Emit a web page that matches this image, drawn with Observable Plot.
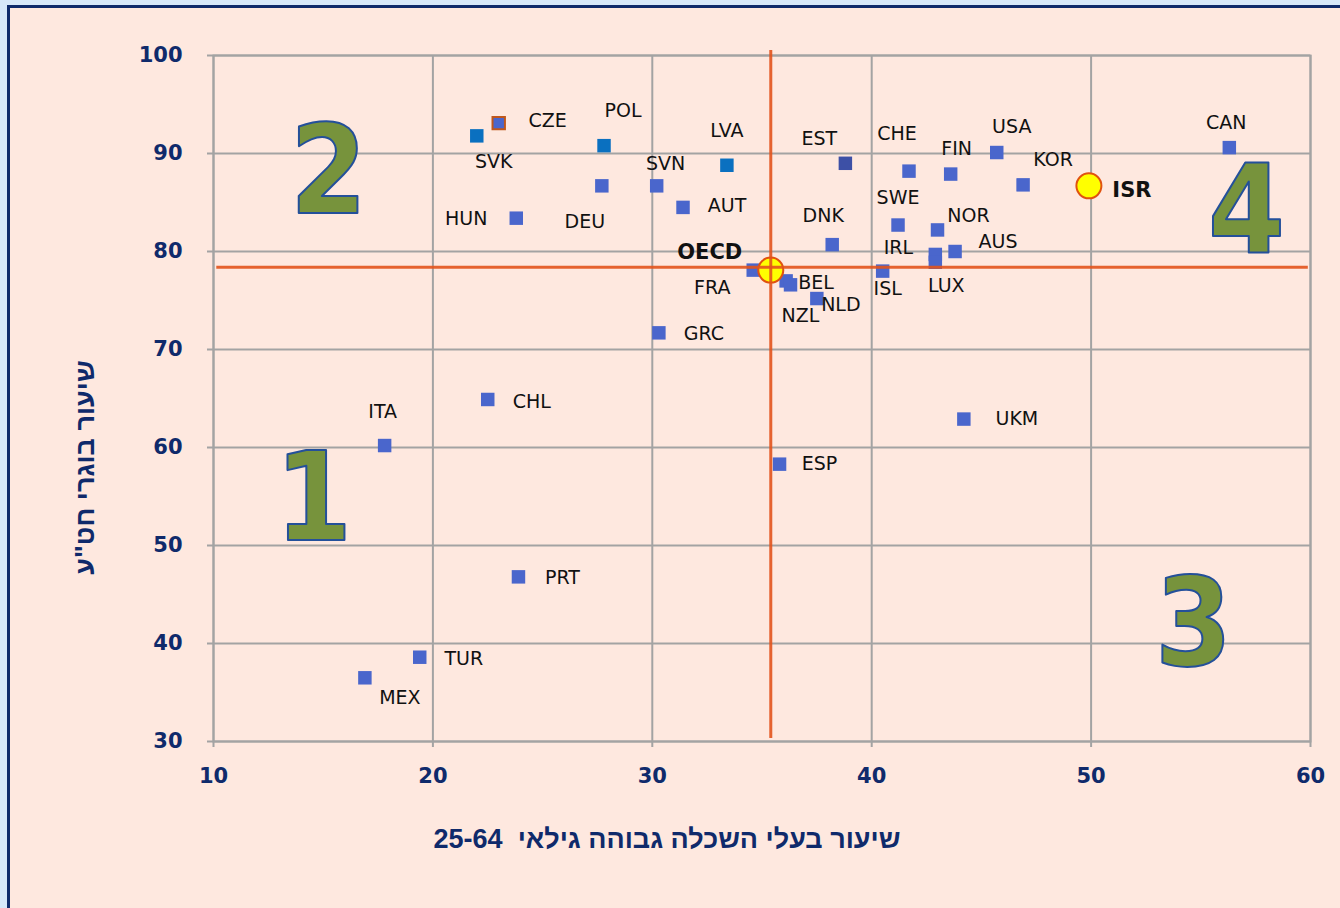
<!DOCTYPE html>
<html><head><meta charset="utf-8">
<script src="https://cdn.jsdelivr.net/npm/d3@7"></script>
<script src="https://cdn.jsdelivr.net/npm/@observablehq/plot@0.6"></script>
<style>
html,body{margin:0;padding:0;}
body{width:1340px;height:908px;background:#d7e8fa;position:relative;overflow:hidden;}
#frame{position:absolute;left:7px;top:5px;width:1333px;height:903px;background:#fee8df;border-left:3px solid #0f2a6b;border-top:3px solid #0f2a6b;box-sizing:border-box;}
#chart{position:absolute;left:0;top:0;}
g[aria-label="quadrant"] text{filter:drop-shadow(4px 4px 3px rgba(0,0,0,0.35));}
</style></head>
<body><div id="frame"></div><div id="chart"></div>
<script>
// ---- data ----
const countries = ["SVK","CZE","POL","LVA","DEU","SVN","AUT","HUN","EST","CHE","FIN","USA","KOR","CAN","SWE","NOR","DNK","IRL","AUS","LUX","ISL","FRA","BEL","NZL","NLD","GRC","CHL","ITA","ESP","UKM","PRT","TUR","MEX","OECD","ISR"];
const tertiaryRate = [22.0,23.0,27.8,33.4,27.7,30.2,31.4,23.8,38.8,41.7,43.6,45.7,46.9,56.3,41.2,43.0,38.2,42.9,43.8,42.9,40.5,34.6,36.1,36.3,37.5,30.3,22.5,17.8,35.8,44.2,23.9,19.4,16.9,35.4,49.9];
const secondaryRate = [91.8,93.1,90.8,88.8,86.7,86.7,84.5,83.4,89.0,88.2,87.9,90.1,86.8,90.6,82.7,82.2,80.7,79.7,80.0,78.9,78.0,78.1,77.0,76.6,75.2,71.7,64.9,60.2,58.3,62.9,46.8,38.6,36.5,78.1,86.7];
const group = ["dark","cze","dark","dark","base","base","base","base","est","base","base","base","base","base","base","base","base","base","base","base","base","base","base","base","base","base","base","base","base","base","base","base","base","highlight","highlight"];
const oecdX = 35.4, oecdY = 78.4;
const xTicks = [10,20,30,40,50,60];
const yTicks = [30,40,50,60,70,80,90,100];
const quadrants = ["1","2","3","4"];
const quadX = [14.56,15.24,54.67,57.08];
const quadY = [54.6,87.96,41.8,84.0];
const xTitle = "שיעור בעלי השכלה גבוהה גילאי  25-64";
const yTitle = "שיעור בוגרי חט\"ע";

// ---- label placement (pixel offsets from point) ----
const labelOffset = {
  SVK:[17,26], CZE:[49,-2], POL:[19,-35], LVA:[0,-34], DEU:[-17,36], SVN:[9,-22], AUT:[44,-1], HUN:[-50,1],
  EST:[-26,-24], CHE:[-12,-37], FIN:[6,-25], USA:[15,-26], KOR:[30,-25], CAN:[-3,-25], SWE:[0,-27], NOR:[31,-14],
  DNK:[-9,-29], IRL:[-37,-7], AUS:[43,-10], LUX:[11,24], ISL:[5,18], FRA:[-41,18], BEL:[30,2], NZL:[10,31],
  NLD:[24,6], GRC:[45,1], CHL:[44,2], ITA:[-2,-34], ESP:[40,0], UKM:[53,0], PRT:[44,1], TUR:[44,2], MEX:[35,20],
  OECD:[-61,-18], ISR:[43,4]
};
const fills = {base:"#4a66cc", dark:"#0a70c0", est:"#3d50a6", cze:"#4a66cc"};
const navy = "#0f2a6b", grid = "#a3a3a3";

const idx = countries.map((_, i) => i);
const sel = g => idx.filter(i => group[i] === g);

const labelMarks = idx.map(i => {
  const bold = group[i] === "highlight";
  const [dx, dy] = labelOffset[countries[i]];
  return Plot.text([i], {x: j => tertiaryRate[j], y: j => secondaryRate[j], text: j => countries[j],
    dx, dy, fontSize: bold ? 21 : 19, fontWeight: bold ? "bold" : "normal", fill: "#111", fontFamily: "DejaVu Sans"});
});

const chart = Plot.plot({
  width: 1340, height: 908,
  marginLeft: 213, marginRight: 30, marginTop: 55, marginBottom: 167,
  style: {background: "transparent", fontFamily: "DejaVu Sans", overflow: "visible"},
  x: {domain: [10, 60], label: null},
  y: {domain: [30, 100], label: null},
  marks: [
    Plot.gridX(xTicks, {stroke: grid, strokeOpacity: 1, strokeWidth: 2}),
    Plot.gridY(yTicks, {stroke: grid, strokeOpacity: 1, strokeWidth: 2}),
    Plot.frame({stroke: grid, strokeWidth: 2}),
    Plot.axisX(xTicks, {tickSize: 6, tickPadding: 21, stroke: grid, strokeWidth: 2, fill: navy, fontSize: 21, fontWeight: "bold", fontFamily: "DejaVu Sans", tickFormat: d => String(d), label: null}),
    Plot.axisY(yTicks, {tickSize: 6, tickPadding: 25, stroke: grid, strokeWidth: 2, fill: navy, fontSize: 21, fontWeight: "bold", fontFamily: "DejaVu Sans", tickFormat: d => String(d), label: null}),
    Plot.text(quadrants, {ariaLabel: "quadrant", x: (d, i) => quadX[i], y: (d, i) => quadY[i], text: d => d,
      fontSize: 123, fontWeight: "bold", fontFamily: "DejaVu Sans Condensed", fill: "#77933c", stroke: "#24509a", strokeWidth: 2, paintOrder: "normal"}),
    ...["base","est","dark"].map(g => Plot.dot(sel(g), {x: i => tertiaryRate[i], y: i => secondaryRate[i], symbol: "square", r: 7.6, fill: fills[g]})),
    Plot.dot(sel("cze"), {x: i => tertiaryRate[i], y: i => secondaryRate[i], symbol: "square", r: 7, fill: fills.cze, stroke: "#c0571c", strokeWidth: 2}),
    Plot.dot(sel("highlight"), {x: i => tertiaryRate[i], y: i => secondaryRate[i], r: 12.5, fill: "#ffff00", stroke: "#e0520f", strokeWidth: 2}),
    Plot.ruleX([oecdX], {y1: 30.3, y2: 100.5, stroke: "#e2531c", strokeWidth: 3, strokeOpacity: 0.9}),
    Plot.ruleY([oecdY], {x1: 10.15, x2: 59.9, stroke: "#e2531c", strokeWidth: 3, strokeOpacity: 0.9}),
    ...labelMarks,
    Plot.text([xTitle], {frameAnchor: "bottom", textAnchor: "middle", text: d => "\u202B" + d + "\u202C", dx: -95, dy: 106, fontSize: 27, fontWeight: "bold", fill: navy, fontFamily: "Liberation Sans"}),
    Plot.text([yTitle], {frameAnchor: "left", textAnchor: "middle", text: d => "\u202B" + d + "\u202C", rotate: -90, dx: -128, dy: 69, fontSize: 27, fontWeight: "bold", fill: navy, fontFamily: "Liberation Sans"})
  ]
});
document.getElementById("chart").appendChild(chart);
</script>
</body></html>
